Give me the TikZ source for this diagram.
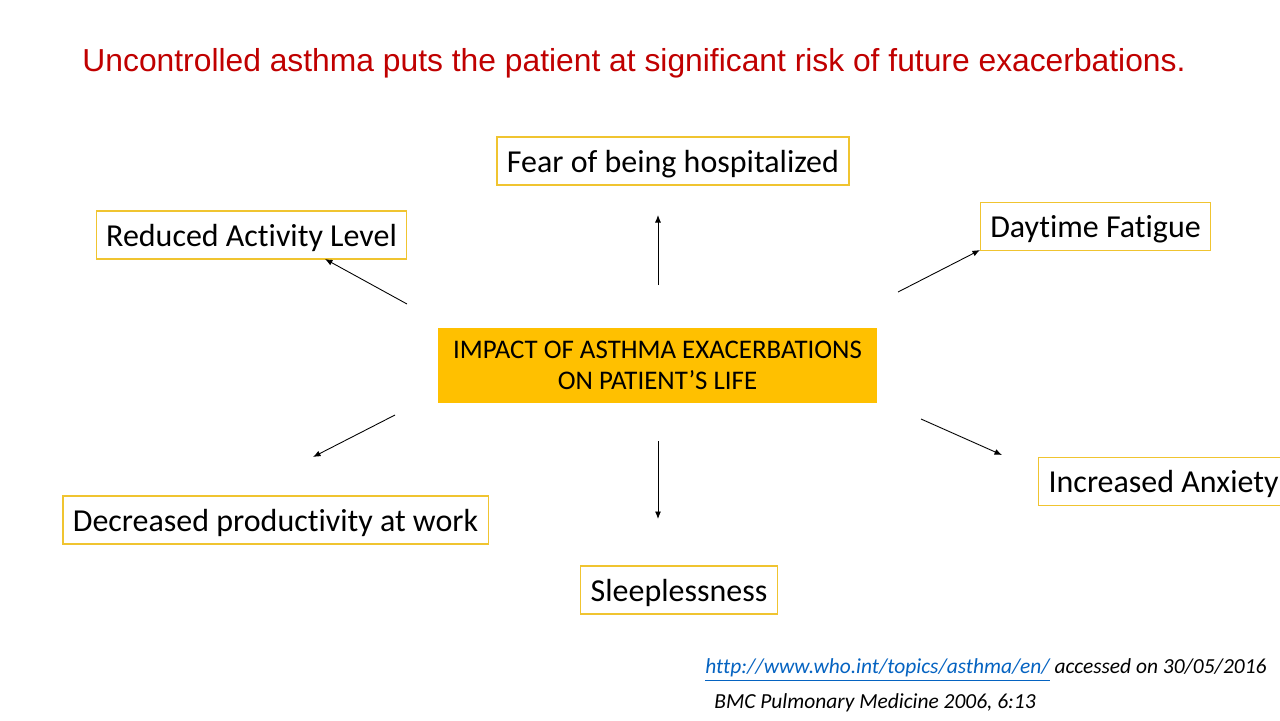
\documentclass[tikz,border=0pt]{standalone}
\usepackage{fontspec}
\setmainfont[Ligatures=NoCommon]{Carlito}
\newfontfamily\headfont{Liberation Sans}
\usetikzlibrary{arrows.meta,positioning}
\definecolor{headred}{HTML}{C00000}
\definecolor{boxline}{HTML}{F0C430}
\definecolor{impactfill}{HTML}{FFC000}
\definecolor{linkblue}{HTML}{0563C1}
\tikzset{
  effect/.style  = {draw=boxline,line width=0.7pt,minimum height=0.96cm,
                    text height=17pt,text depth=4.4pt,inner ysep=1pt,
                    inner xsep=0.2cm,font=\fontsize{18.2}{21}\selectfont},
  impact/.style  = {fill=impactfill,minimum width=8.78cm,minimum height=1.5cm,
                    align=center,font=\fontsize{15.3}{17.6}\selectfont},
  outarr/.style  = {-{Latex[length=1.5mm,width=1.2mm]},line width=0.5pt},
  ref/.style     = {anchor=west,inner sep=0pt,font=\fontsize{12.2}{14}\selectfont\itshape},
}

\begin{document}
\begin{tikzpicture}[x=0.02cm,y=-0.02cm]
  \useasboundingbox (0,0) rectangle (1280,720);
  \node[font=\headfont\fontsize{18.1}{21}\selectfont,text=headred] (head) at (634,63)
    {Uncontrolled asthma puts the patient at significant risk of future exacerbations.};

  % centre box
  \node[impact] (life) at (657.5,365.5)
    {IMPACT OF ASTHMA EXACERBATIONS\\ON PATIENT’S LIFE};

  % effects
  \node[effect] (fear)    at (673,161) {Fear of being hospitalized};
  \node[effect] (activity) at (251.5,235) {Reduced Activity Level};
  \node[effect] (fatigue) at (1095.5,226.5) {Daytime Fatigue};
  \node[effect,anchor=west] (anxiety) at (1038,481.5) {Increased Anxiety};
  \node[effect] (work)    at (275.5,520) {Decreased productivity at work};
  \node[effect] (sleep)   at (679,590) {Sleeplessness};

  % arrow ends
  \coordinate (up-a) at (658,285);     \coordinate (up-b) at (658,215);
  \coordinate (ul-a) at (407,304);     \coordinate (ul-b) at (325,259);
  \coordinate (ur-a) at (898,292);     \coordinate (ur-b) at (980,250);
  \coordinate (dl-a) at (395,415);     \coordinate (dl-b) at (313,457);
  \coordinate (dn-a) at (658,441);     \coordinate (dn-b) at (658,519);
  \coordinate (dr-a) at (921,419);     \coordinate (dr-b) at (1002,455);
  \foreach \a in {up,ul,ur,dl,dn,dr}
    \draw[outarr] (\a-a) -- (\a-b);

  % sources
  \node[ref] (who) at (705,670)
    {\textcolor{linkblue}{\underline{http://www.who.int/topics/asthma/en/}} accessed on 30/05/2016};
  \node[ref] (bmc) at (714,703) {BMC Pulmonary Medicine 2006, 6:13};
\end{tikzpicture}
\end{document}
